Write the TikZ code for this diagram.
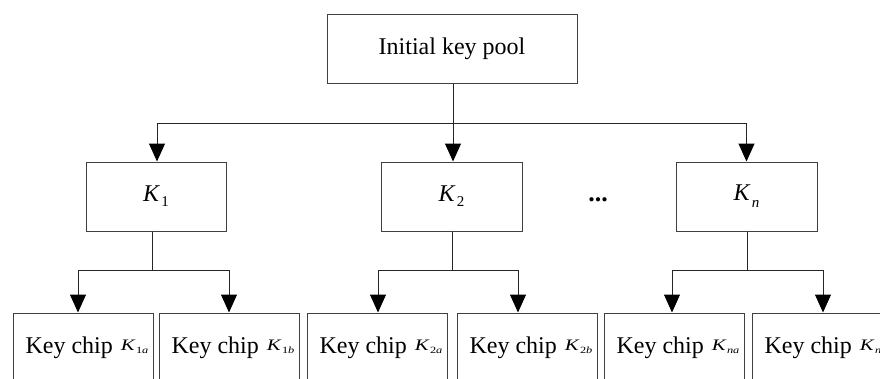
\documentclass[tikz,border=0pt]{standalone}
\usepackage{fontspec}
\setmainfont{Liberation Serif}
\usetikzlibrary{arrows.meta}
\newcommand\midK[2]{\textit{K}\hspace{1pt}\raisebox{#2}{\fontsize{15}{15}\selectfont #1}}
\newcommand\chipK[1]{\hspace{8pt}\raisebox{2.5pt}{\scalebox{1.3}[1]{\fontsize{16}{16}\selectfont\textit{K}\hspace{0.3pt}\raisebox{-3pt}{\fontsize{9.5}{9.5}\selectfont #1}}}}
\begin{document}
\begin{tikzpicture}[x=1pt,y=-1pt,
  box/.style={draw=black!75,line width=1pt,minimum height=69pt,inner sep=0pt,
    font=\fontsize{24}{28}\selectfont},
  conn/.style={draw=black!85,line width=1pt},
  arr/.style={conn,-{Triangle[width=16pt,length=18pt,color=black,fill=black]}}]
\useasboundingbox (0,0) rectangle (880,378);
\clip (0,0) rectangle (880,378);
% top
\node[box,minimum width=250pt] (pool) at (452,48.5) {Initial key pool};
% middle level
\node[box,minimum width=140pt] (K1) at (156,196.5) {\midK{1}{-5pt}};
\node[box,minimum width=141pt] (K2) at (451.5,196.5) {\midK{2}{-5pt}};
\node[box,minimum width=141pt] (Kn) at (746.5,196.5) {\midK{\textit{n}}{-7pt}};
\node[anchor=base,font=\fontsize{26}{26}\selectfont\bfseries,inner sep=0pt] (dots) at (598,201) {...};
% bottom level
\node[box,minimum width=140pt] (c1a) at (83,347.5) {\hspace{8pt}Key chip\chipK{1\textit{a}}};
\node[box,minimum width=140pt] (c1b) at (229,347.5) {\hspace{8pt}Key chip\chipK{1\textit{b}}};
\node[box,minimum width=140pt] (c2a) at (377,347.5) {\hspace{8pt}Key chip\chipK{2\textit{a}}};
\node[box,minimum width=140pt] (c2b) at (527,347.5) {\hspace{8pt}Key chip\chipK{2\textit{b}}};
\node[box,minimum width=140pt] (cna) at (674,347.5) {\hspace{8pt}Key chip\chipK{\textit{na}}};
\node[box,minimum width=140pt] (cnb) at (822,347.5) {\hspace{8pt}Key chip\chipK{\textit{nb}}};
% branch points
\coordinate (top1) at (453,123);
\coordinate (br1) at (152,270);
\coordinate (br2) at (452,270);
\coordinate (brn) at (747,270);
% connectors from pool
\draw[conn] (pool.south -| top1) -- (top1);
\draw[arr] (top1) -| ([xshift=1pt]K1.north);
\draw[arr] (top1) -- (top1 |- K2.north);
\draw[arr] (top1) -| (Kn.north);
% K1 branch
\draw[conn] (K1.south -| br1) -- (br1);
\draw[arr] (br1) -| ([xshift=-5pt]c1a.north);
\draw[arr] (br1) -| (c1b.north);
% K2 branch
\draw[conn] (K2.south -| br2) -- (br2);
\draw[arr] (br2) -| ([xshift=1pt]c2a.north);
\draw[arr] (br2) -| ([xshift=-9pt]c2b.north);
% Kn branch
\draw[conn] (Kn.south -| brn) -- (brn);
\draw[arr] (brn) -| ([xshift=-2pt]cna.north);
\draw[arr] (brn) -| ([xshift=1pt]cnb.north);
\end{tikzpicture}
\end{document}
